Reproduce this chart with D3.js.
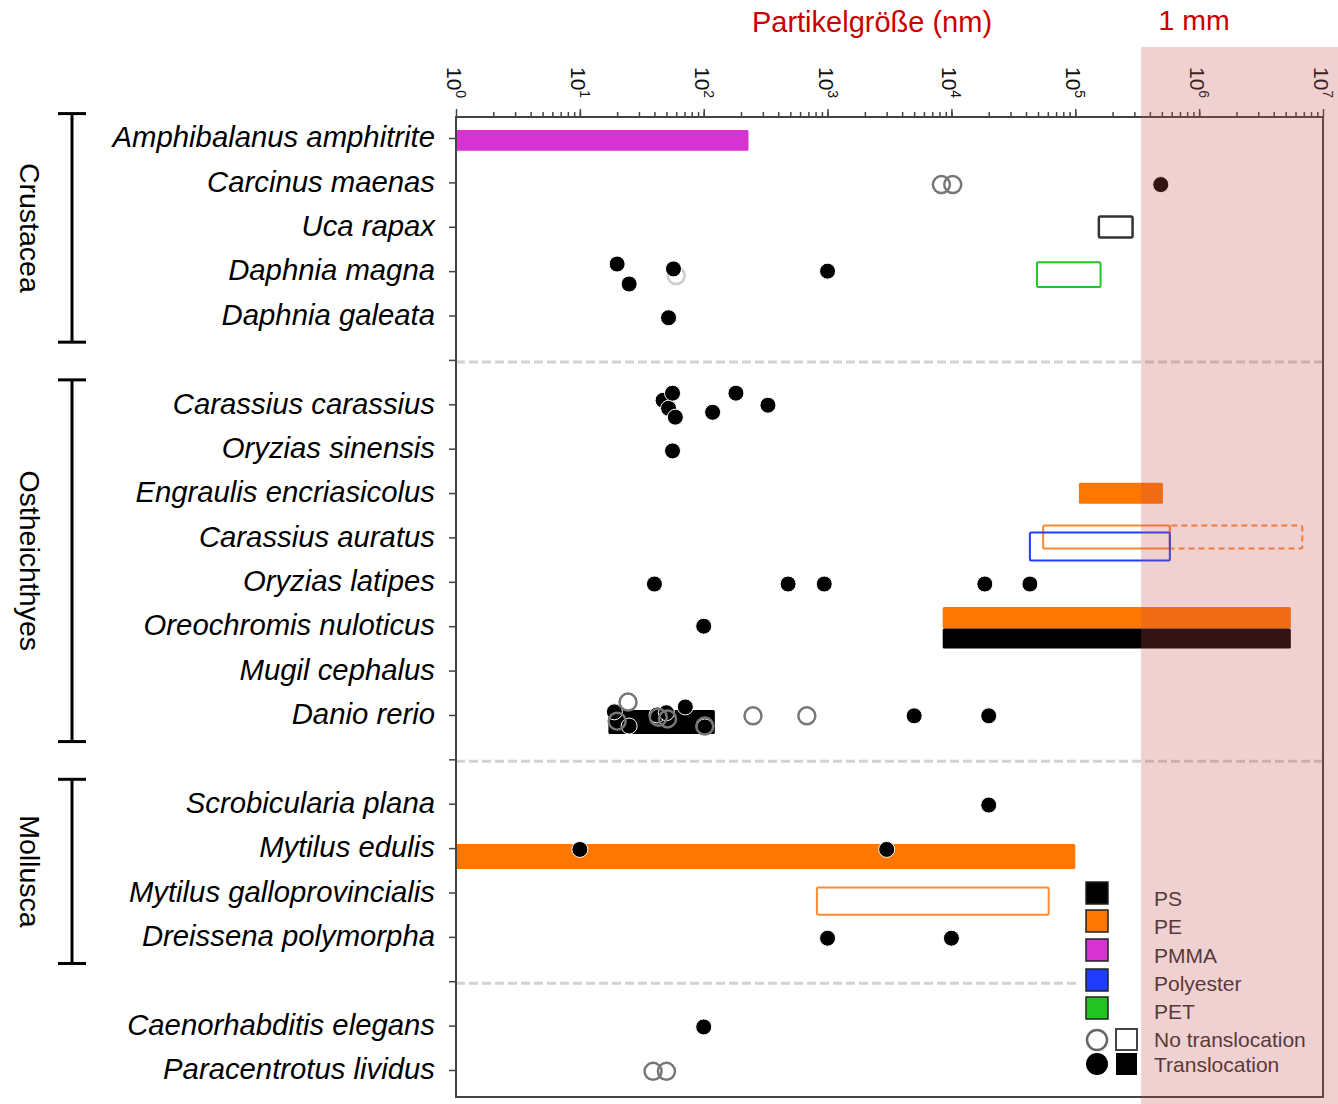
<!DOCTYPE html>
<html>
<head>
<meta charset="utf-8">
<script src="https://cdn.jsdelivr.net/npm/d3@7"></script>
<style>
  body { margin: 0; background: #fff; }
  svg { display: block; font-family: "Liberation Sans", Arial, sans-serif; }
</style>
</head>
<body>
<div id="plot"></div>
<script>
var svgWidth = 1338;
var svgHeight = 1104;

// rows from top to bottom, "sep" marks a dashed group separator
var rows = [
  "Amphibalanus amphitrite", "Carcinus maenas", "Uca rapax", "Daphnia magna", "Daphnia galeata",
  "sep1",
  "Carassius carassius", "Oryzias sinensis", "Engraulis encriasicolus", "Carassius auratus",
  "Oryzias latipes", "Oreochromis nuloticus", "Mugil cephalus", "Danio rerio",
  "sep2",
  "Scrobicularia plana", "Mytilus edulis", "Mytilus galloprovincialis", "Dreissena polymorpha",
  "sep3",
  "Caenorhabditis elegans", "Paracentrotus lividus"
];

var groupNames = ["Crustacea", "Ostheichthyes", "Mollusca"];
var groupFirst = ["Amphibalanus amphitrite", "Carassius carassius", "Scrobicularia plana"];
var groupLast = ["Daphnia galeata", "Danio rerio", "Dreissena polymorpha"];

var materials = ["PS", "PE", "PMMA", "Polyester", "PET"];
var materialColors = ["#000000", "#ff7700", "#d633d0", "#1f3cff", "#22c422"];

var decades = [0, 1, 2, 3, 4, 5, 6, 7];
var shadeFrom = 3.4e5; // nm, start of the shaded (mm) range

// size ranges (nm); dy / h in row steps relative to the row line
var bars = [
  { sp: "Amphibalanus amphitrite", mat: "PMMA", x0: 1, x1: 230, dy: -0.18, h: 0.47, filled: true },
  { sp: "Uca rapax", mat: "PS", x0: 1.55e5, x1: 2.9e5, dy: -0.23, h: 0.47, filled: false },
  { sp: "Daphnia magna", mat: "PET", x0: 4.9e4, x1: 1.6e5, dy: -0.2, h: 0.56, filled: false },
  { sp: "Engraulis encriasicolus", mat: "PE", x0: 1.07e5, x1: 5.1e5, dy: -0.23, h: 0.47, filled: true },
  { sp: "Carassius auratus", mat: "PE", x0: 5.5e4, x1: 5.8e5, dy: -0.27, h: 0.52, filled: false },
  { sp: "Carassius auratus", mat: "PE", x0: 5.8e5, x1: 6.8e6, dy: -0.27, h: 0.52, filled: false, dashed: true },
  { sp: "Carassius auratus", mat: "Polyester", x0: 4.3e4, x1: 5.8e5, dy: -0.11, h: 0.63, filled: false },
  { sp: "Oreochromis nuloticus", mat: "PE", x0: 8.5e3, x1: 5.5e6, dy: -0.43, h: 0.48, filled: true },
  { sp: "Oreochromis nuloticus", mat: "PS", x0: 8.5e3, x1: 5.5e6, dy: 0.05, h: 0.45, filled: true },
  { sp: "Danio rerio", mat: "PS", x0: 17, x1: 123, dy: -0.11, h: 0.54, filled: true },
  { sp: "Mytilus edulis", mat: "PE", x0: 1, x1: 1e5, dy: -0.09, h: 0.56, filled: true },
  { sp: "Mytilus galloprovincialis", mat: "PE", x0: 820, x1: 6.1e4, dy: -0.11, h: 0.61, filled: false }
];

// single sizes (nm); open = no translocation
var points = [
  { sp: "Carcinus maenas", v: 8300, dy: 0.05, open: true },
  { sp: "Carcinus maenas", v: 10250, dy: 0.05, open: true },
  { sp: "Carcinus maenas", v: 4.9e5, dy: 0.05, open: false },
  { sp: "Daphnia magna", v: 60, dy: 0.1, open: true, faint: true },
  { sp: "Daphnia magna", v: 20, dy: -0.16, open: false },
  { sp: "Daphnia magna", v: 25, dy: 0.29, open: false },
  { sp: "Daphnia magna", v: 57, dy: -0.05, open: false },
  { sp: "Daphnia magna", v: 1000, dy: 0, open: false },
  { sp: "Daphnia galeata", v: 52, dy: 0.05, open: false },
  { sp: "Carassius carassius", v: 47, dy: -0.09, open: false },
  { sp: "Carassius carassius", v: 52, dy: 0.09, open: false },
  { sp: "Carassius carassius", v: 56, dy: -0.25, open: false },
  { sp: "Carassius carassius", v: 59, dy: 0.29, open: false },
  { sp: "Carassius carassius", v: 118, dy: 0.18, open: false },
  { sp: "Carassius carassius", v: 182, dy: -0.25, open: false },
  { sp: "Carassius carassius", v: 330, dy: 0.02, open: false },
  { sp: "Oryzias sinensis", v: 56, dy: 0.05, open: false },
  { sp: "Oryzias latipes", v: 40, dy: 0.05, open: false },
  { sp: "Oryzias latipes", v: 480, dy: 0.05, open: false },
  { sp: "Oryzias latipes", v: 940, dy: 0.05, open: false },
  { sp: "Oryzias latipes", v: 1.86e4, dy: 0.05, open: false },
  { sp: "Oryzias latipes", v: 4.3e4, dy: 0.05, open: false },
  { sp: "Oreochromis nuloticus", v: 100, dy: 0, open: false },
  { sp: "Danio rerio", v: 19, dy: -0.07, open: false },
  { sp: "Danio rerio", v: 25, dy: 0.25, open: false },
  { sp: "Danio rerio", v: 42, dy: 0, open: false },
  { sp: "Danio rerio", v: 50, dy: -0.05, open: false },
  { sp: "Danio rerio", v: 71, dy: -0.18, open: false },
  { sp: "Danio rerio", v: 102, dy: 0.27, open: false },
  { sp: "Danio rerio", v: 24.5, dy: -0.29, open: true },
  { sp: "Danio rerio", v: 20, dy: 0.14, open: true },
  { sp: "Danio rerio", v: 43, dy: 0.05, open: true },
  { sp: "Danio rerio", v: 51, dy: 0.09, open: true },
  { sp: "Danio rerio", v: 102, dy: 0.25, open: true },
  { sp: "Danio rerio", v: 250, dy: 0.02, open: true },
  { sp: "Danio rerio", v: 680, dy: 0.02, open: true },
  { sp: "Danio rerio", v: 5000, dy: 0.02, open: false },
  { sp: "Danio rerio", v: 2e4, dy: 0.02, open: false },
  { sp: "Scrobicularia plana", v: 2e4, dy: 0.03, open: false },
  { sp: "Mytilus edulis", v: 10, dy: 0.03, open: false },
  { sp: "Mytilus edulis", v: 3000, dy: 0.03, open: false },
  { sp: "Dreissena polymorpha", v: 1000, dy: 0.03, open: false },
  { sp: "Dreissena polymorpha", v: 1e4, dy: 0.03, open: false },
  { sp: "Caenorhabditis elegans", v: 100, dy: 0.03, open: false },
  { sp: "Paracentrotus lividus", v: 39, dy: 0.03, open: true },
  { sp: "Paracentrotus lividus", v: 50, dy: 0.03, open: true }
];

var legendLabels = ["PS", "PE", "PMMA", "Polyester", "PET", "No translocation", "Translocation"];

var margin = { top: 117, right: 15, bottom: 7, left: 456 };
var width = svgWidth - margin.left - margin.right;
var height = svgHeight - margin.top - margin.bottom;

var svg = d3.select("#plot")
  .append("svg")
  .attr("width", svgWidth)
  .attr("height", svgHeight);

var chartGroup = svg.append("g")
  .attr("transform", `translate(${margin.left}, ${margin.top})`);

var xScale = d3.scaleLog().domain([1, 1e7]).range([0, width]);
var yScale = d3.scalePoint().domain(rows).range([21, 953]);
var step = yScale.step();
var color = d3.scaleOrdinal().domain(materials).range(materialColors);

// dashed separators
chartGroup.selectAll(".sep")
  .data(rows.filter(r => r.startsWith("sep")))
  .enter().append("line")
  .attr("x1", 0).attr("x2", width)
  .attr("y1", d => yScale(d) + 2).attr("y2", d => yScale(d) + 2)
  .attr("stroke", "#d2d2d2")
  .attr("stroke-width", 3)
  .attr("stroke-dasharray", "9,4");

// bars
chartGroup.selectAll(".bar")
  .data(bars)
  .enter().append("rect")
  .attr("x", d => xScale(d.x0))
  .attr("width", d => xScale(d.x1) - xScale(d.x0))
  .attr("y", d => yScale(d.sp) + d.dy * step)
  .attr("height", d => d.h * step)
  .attr("fill", d => d.filled ? color(d.mat) : "none")
  .attr("stroke", d => d.filled ? "none" : (d.mat === "PS" ? "#333" : d.mat === "PE" ? "#ff8a33" : color(d.mat)))
  .attr("stroke-width", d => d.mat === "PS" ? 2.5 : 2)
  .attr("stroke-dasharray", d => d.dashed ? "6,4" : null)
  .attr("rx", 1.5);

// points
chartGroup.selectAll(".pt")
  .data(points)
  .enter().append("circle")
  .attr("cx", d => xScale(d.v))
  .attr("cy", d => yScale(d.sp) + d.dy * step)
  .attr("r", d => d.open ? 8.5 : 8)
  .attr("fill", d => d.open ? "none" : "#000")
  .attr("stroke", d => d.open ? (d.faint ? "#ccc" : "#777") : "#fff")
  .attr("stroke-width", d => d.open ? 2.5 : 1);

// legend
var legend = chartGroup.append("g")
  .attr("transform", `translate(${width - 243}, ${height - 221})`);

legend.append("rect")
  .attr("x", 0).attr("y", 0)
  .attr("width", 243).attr("height", 221)
  .attr("fill", "#fff");

legend.selectAll(".sw")
  .data(materials)
  .enter().append("rect")
  .attr("x", 6)
  .attr("y", (d, i) => 6 + [0, 28, 57, 87, 115][i])
  .attr("width", 22).attr("height", 22)
  .attr("fill", d => color(d))
  .attr("stroke", "#222")
  .attr("stroke-width", 1.5);

legend.append("circle").attr("cx", 17).attr("cy", 164).attr("r", 10)
  .attr("fill", "none").attr("stroke", "#666").attr("stroke-width", 2.5);
legend.append("rect").attr("x", 36).attr("y", 153).attr("width", 21).attr("height", 21)
  .attr("fill", "none").attr("stroke", "#444").attr("stroke-width", 2);
legend.append("circle").attr("cx", 17).attr("cy", 188).attr("r", 11).attr("fill", "#000");
legend.append("rect").attr("x", 36).attr("y", 177).attr("width", 21).attr("height", 22).attr("fill", "#000");

legend.selectAll(".lt")
  .data(legendLabels)
  .enter().append("text")
  .attr("x", 74)
  .attr("y", (d, i) => [30, 58, 87, 115, 143, 171, 196][i])
  .attr("font-size", "21px")
  .attr("fill", "#333")
  .text(d => d);

// top axis: minor and decade ticks
var minorTicks = xScale.ticks().filter(v => v > 1 && v < 1e7);
chartGroup.append("g")
  .call(d3.axisTop(xScale).tickValues(minorTicks).tickSize(5).tickFormat(""))
  .call(g => g.select(".domain").remove())
  .selectAll("line").attr("stroke", "#444").attr("stroke-width", 1.5);

chartGroup.append("g")
  .call(d3.axisTop(xScale).tickValues(decades.map(d => Math.pow(10, d))).tickSize(8).tickFormat(""))
  .call(g => g.select(".domain").remove())
  .selectAll("line").attr("stroke", "#444").attr("stroke-width", 1.5);

var decadeLabels = chartGroup.selectAll(".dec")
  .data(decades)
  .enter().append("text")
  .attr("transform", d => `translate(${xScale(Math.pow(10, d)) - 1}, -50) rotate(90)`)
  .attr("dominant-baseline", "central")
  .attr("font-size", "21px")
  .attr("fill", "#111");
decadeLabels.append("tspan").text("10");
decadeLabels.append("tspan").attr("dy", -6).attr("font-size", "14px").text(d => d);

// left axis with species names
var leftAxis = chartGroup.append("g")
  .call(d3.axisLeft(yScale).tickSize(7).tickPadding(14)
    .tickFormat(d => d.startsWith("sep") ? "" : d));
leftAxis.select(".domain").remove();
leftAxis.selectAll("line").attr("stroke", "#444").attr("stroke-width", 1.5);
leftAxis.selectAll("text")
  .attr("font-size", "29.3px")
  .attr("font-style", "italic")
  .attr("font-family", "'Liberation Sans', Arial, sans-serif")
  .attr("fill", "#000")
  .attr("dy", "0.3em");

// frame
chartGroup.append("rect")
  .attr("x", 0).attr("y", 0)
  .attr("width", width).attr("height", height)
  .attr("fill", "none")
  .attr("stroke", "#444")
  .attr("stroke-width", 2);

// group brackets
groupNames.forEach(function(name, i) {
  var y0 = yScale(groupFirst[i]) - 0.55 * step;
  var y1 = yScale(groupLast[i]) + 0.6 * step;
  var bx = 72 - margin.left;
  var g = chartGroup.append("g").attr("stroke", "#000").attr("stroke-width", 3);
  g.append("line").attr("x1", bx).attr("x2", bx).attr("y1", y0).attr("y2", y1);
  g.append("line").attr("x1", bx - 14).attr("x2", bx + 14).attr("y1", y0).attr("y2", y0);
  g.append("line").attr("x1", bx - 14).attr("x2", bx + 14).attr("y1", y1).attr("y2", y1);
  chartGroup.append("text")
    .attr("transform", `translate(${30 - margin.left}, ${(y0 + y1) / 2}) rotate(90)`)
    .attr("text-anchor", "middle")
    .attr("dominant-baseline", "central")
    .attr("font-size", "28.5px")
    .attr("fill", "#000")
    .text(name);
});

// shaded millimetre range
svg.append("rect")
  .attr("x", margin.left + xScale(shadeFrom))
  .attr("y", 47)
  .attr("width", svgWidth - margin.left - xScale(shadeFrom))
  .attr("height", svgHeight - 47)
  .attr("fill", "rgb(198,76,76)")
  .attr("opacity", 0.26);

// titles
svg.append("text")
  .attr("x", 872).attr("y", 32)
  .attr("text-anchor", "middle")
  .attr("font-size", "29px")
  .attr("fill", "#c80000")
  .text("Partikelgröße (nm)");

svg.append("text")
  .attr("x", 1194).attr("y", 30)
  .attr("text-anchor", "middle")
  .attr("font-size", "28.5px")
  .attr("fill", "#c80000")
  .text("1 mm");
</script>
</body>
</html>
